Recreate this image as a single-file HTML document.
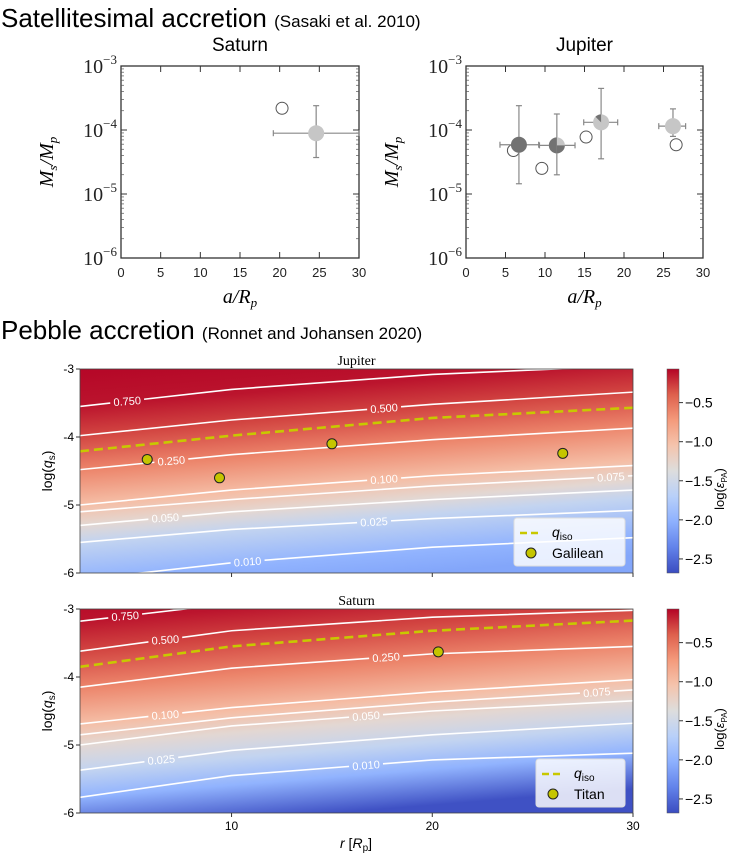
<!DOCTYPE html>
<html><head><meta charset="utf-8">
<style>
html,body{margin:0;padding:0;background:#fff;}
svg{display:block;font-family:"Liberation Sans",sans-serif;}
</style></head>
<body>
<svg id="fig" width="729" height="853" viewBox="0 0 729 853" xmlns="http://www.w3.org/2000/svg">
<text x="1" y="27" font-size="26">Satellitesimal accretion <tspan font-size="17">(Sasaki et al. 2010)</tspan></text>
<text x="1" y="339" font-size="26">Pebble accretion <tspan font-size="17">(Ronnet and Johansen 2020)</tspan></text>
<g id="topg"></g>
<g id="heat"></g>
</svg>
<script>
// ---------- satellitesimal data ----------
const satXTicks = [0,5,10,15,20,25,30];
const satYDecades = [-3,-4,-5,-6];
const saturnOpenX = [20.3];
const saturnOpenLog = [-3.66];
const saturnFillX = [24.6];
const saturnFillLog = [-4.05];
const saturnFillShade = ['light'];
const saturnXErrLo = [19.2], saturnXErrHi = [30];
const saturnYErrLo = [-4.43], saturnYErrHi = [-3.62];
const jupOpenX = [6.0, 9.6, 15.2, 26.6];
const jupOpenLog = [-4.32, -4.60, -4.11, -4.23];
const jupFillX = [6.7, 11.5, 17.1, 26.2];
const jupFillLog = [-4.23, -4.24, -3.88, -3.94];
const jupFillShade = ['dark','half','sliver','light'];
const jupXErrLo = [4.3, 9.3, 14.9, 24.4], jupXErrHi = [9.2, 13.8, 19.2, 27.8];
const jupYErrLo = [-4.84, -4.70, -4.45, -4.10], jupYErrHi = [-3.62, -3.75, -3.35, -3.67];

// ---------- pebble data ----------
const rTicks = [10,20,30];
const qTicks = [-3,-4,-5,-6];
const cbTicks = [-0.5,-1.0,-1.5,-2.0,-2.5];
const contourR = [2.45, 10, 20, 30];
const levels = ['0.750','0.500','0.250','0.100','0.075','0.050','0.025','0.010'];
const jupContours = [
 [-3.55,-3.30,-3.08,-2.95],[-3.98,-3.75,-3.52,-3.34],[-4.48,-4.26,-4.04,-3.87],
 [-5.0,-4.78,-4.57,-4.42],[-5.1,-4.92,-4.72,-4.57],[-5.3,-5.1,-4.92,-4.78],
 [-5.55,-5.36,-5.2,-5.08],[-6.1,-5.85,-5.62,-5.48]];
const jupLabelR = [4.8, 17.6, 7.0, 17.6, 28.9, 6.7, 17.1, 10.8];
const jupIso = [-4.21,-3.98,-3.72,-3.57];
const jupMoonR = [5.8, 9.4, 15.0, 26.5];
const jupMoonQ = [-4.33, -4.60, -4.10, -4.24];
const jupStopQ = [-2.9,-3.55,-3.98,-4.48,-5.0,-5.3,-5.55,-6.1,-6.4];
const jupStopV = [-0.05,-0.125,-0.3,-0.6,-1.0,-1.3,-1.6,-2.0,-2.1];
const satContours = [
 [-3.18,-2.92,-2.7,-2.55],[-3.62,-3.32,-3.12,-3.02],[-4.15,-3.87,-3.66,-3.55],
 [-4.69,-4.45,-4.22,-4.04],[-4.85,-4.6,-4.37,-4.19],[-5.0,-4.72,-4.5,-4.35],
 [-5.37,-5.08,-4.85,-4.68],[-5.77,-5.45,-5.22,-5.12]];
const satLabelR = [4.7, 6.7, 17.7, 6.7, 28.2, 16.7, 6.5, 16.7];
const satIso = [-3.85,-3.55,-3.32,-3.17];
const satMoonR = [20.3];
const satMoonQ = [-3.63];
const satStopQ = [-2.7,-3.18,-3.62,-4.15,-4.69,-5.0,-5.37,-5.77,-6.3];
const satStopV = [-0.02,-0.125,-0.3,-0.6,-1.0,-1.3,-1.6,-2.0,-2.65];

const NS='http://www.w3.org/2000/svg';
function mk(tag, attrs, parent){const e=document.createElementNS(NS,tag);for(const k in attrs)e.setAttribute(k,attrs[k]);parent.appendChild(e);return e;}
const topG=document.getElementById('topg'), heatG=document.getElementById('heat');

function satPanel(X0,X1,title,openX,openL,fillX,fillL,shade,xl,xh,yl,yh,id){
  const Y0=66,Y1=258;
  const sx=v=>X0+(v/30)*(X1-X0);
  const sy=l=>Y0+(-3-l)/3*(Y1-Y0);
  const g=mk('g',{},topG);
  
  
  const t=mk('text',{x:(X0+X1)/2,y:51,'font-size':19,'text-anchor':'middle'},g);t.textContent=title;
  
  
  const fr=mk('rect',{x:X0,y:Y0,width:X1-X0,height:Y1-Y0,fill:'none',stroke:'#333','stroke-width':1.3},g);
  
  
  satXTicks.forEach(v=>{
    const x=sx(v);
    mk('line',{x1:x,x2:x,y1:Y1,y2:Y1-6,stroke:'#333'},g);
    mk('line',{x1:x,x2:x,y1:Y0,y2:Y0+6,stroke:'#333'},g);
    const tl=mk('text',{x:x,y:277,'font-size':13,'text-anchor':'middle',fill:'#222'},g);tl.textContent=v;
    
    
  });
  satYDecades.forEach(d=>{
    const y=sy(d);
    mk('line',{x1:X0,x2:X0+6,y1:y,y2:y,stroke:'#333'},g);
    mk('line',{x1:X1,x2:X1-6,y1:y,y2:y,stroke:'#333'},g);
    if(d>-6){for(let m=2;m<10;m++){const yy=sy(d-1+Math.log10(m));
      mk('line',{x1:X0,x2:X0+3,y1:yy,y2:yy,stroke:'#555','stroke-width':0.7},g);
      mk('line',{x1:X1,x2:X1-3,y1:yy,y2:yy,stroke:'#555','stroke-width':0.7},g);}}
    const tl=mk('text',{x:X0-4,y:y+7,'font-size':20,'text-anchor':'end','font-family':'Liberation Serif, serif',fill:'#222'},g);
    tl.innerHTML='10<tspan dy="-9" font-size="13">−'+(-d)+'</tspan>';
    
    
  });
  const yl2=mk('text',{transform:`translate(${X0-68},${(Y0+Y1)/2}) rotate(-90)`,'font-size':20,'text-anchor':'middle','font-family':'Liberation Serif, serif','font-style':'italic'},g);
  yl2.innerHTML='M<tspan font-size="13" dy="4">s</tspan><tspan dy="-4">/M</tspan><tspan font-size="13" dy="4">p</tspan>';
  
  
  const xl2=mk('text',{x:(X0+X1)/2,y:303,'font-size':20,'text-anchor':'middle','font-family':'Liberation Serif, serif','font-style':'italic'},g);
  xl2.innerHTML='a/R<tspan font-size="13" dy="4">p</tspan>';
  
  
  for(let i=0;i<openX.length;i++){
    const c=mk('circle',{cx:sx(openX[i]),cy:sy(openL[i]),r:6,fill:'#fff',stroke:'#555','stroke-width':1},g);
    
    
  }
  for(let i=0;i<fillX.length;i++){
    const cx=sx(fillX[i]), cy=sy(fillL[i]);
    const eb=mk('g',{stroke:'#888','stroke-width':1.2},g);
    
    
    mk('line',{x1:sx(xl[i]),x2:sx(xh[i]),y1:cy,y2:cy},eb);
    mk('line',{x1:cx,x2:cx,y1:sy(yl[i]),y2:sy(yh[i])},eb);
    [xl[i],xh[i]].forEach(v=>mk('line',{x1:sx(v),x2:sx(v),y1:cy-3,y2:cy+3},eb));
    [yl[i],yh[i]].forEach(v=>mk('line',{x1:cx-3,x2:cx+3,y1:sy(v),y2:sy(v)},eb));
    const s=shade[i], r=8;
    const c=mk('circle',{cx:cx,cy:cy,r:r,fill:s==='dark'?'#727272':'#c6c6c6'},g);
    
    
    if(s==='half') mk('path',{d:`M${cx},${cy-r} A${r},${r} 0 0 0 ${cx},${cy+r} Z`,fill:'#727272'},g);
    if(s==='half') mk('path',{d:`M${cx},${cy} L${cx+r},${cy} A${r},${r} 0 0 1 ${cx},${cy+r} Z`,fill:'#727272'},g);
    if(s==='sliver') mk('path',{d:`M${cx},${cy} L${cx},${cy-r} A${r},${r} 0 0 0 ${cx-r*0.7},${cy-r*0.7} Z`,fill:'#727272'},g);
  }
}
satPanel(121,359,'Saturn',saturnOpenX,saturnOpenLog,saturnFillX,saturnFillLog,saturnFillShade,saturnXErrLo,saturnXErrHi,saturnYErrLo,saturnYErrHi,'saturn-satellitesimal');
satPanel(466,703,'Jupiter',jupOpenX,jupOpenLog,jupFillX,jupFillLog,jupFillShade,jupXErrLo,jupXErrHi,jupYErrLo,jupYErrHi,'jupiter-satellitesimal');

const cw=[[59,76,192],[98,130,234],[141,176,254],[184,208,249],[221,221,221],[245,196,173],[244,154,123],[222,96,77],[180,4,38]];
const VMIN=-2.68, VMAX=-0.07;
function color(v){let t=(v-VMIN)/(VMAX-VMIN);t=Math.max(0,Math.min(1,t))*8;const i=Math.min(7,Math.floor(t)),f=t-i;
  const c=cw[i].map((a,k)=>Math.round(a+(cw[i+1][k]-a)*f));return `rgb(${c})`;}

function pebblePanel(Y0,title,contours,labelR,iso,moonR,moonQ,stopQ,stopV,legendName,legX,legY,showX,id){
  const X0=80,X1=633,Y1=Y0+204;
  const sx=r=>X0+(r-2.45)/(30-2.45)*(X1-X0);
  const sy=q=>Y0+(-3-q)/3*(Y1-Y0);
  const g=mk('g',{},heatG);
  
  
  const defs=mk('defs',{},g);
  const gy0=sy(stopQ[0]), gy1=sy(stopQ[stopQ.length-1]);
  const lg=mk('linearGradient',{id:id+'-grad',gradientUnits:'userSpaceOnUse',x1:X0,x2:X0,y1:gy0,y2:gy1,
     gradientTransform:`translate(${X0},0) skewY(-4.6) translate(${-X0},0)`},defs);
  stopQ.forEach((q,i)=>mk('stop',{offset:(sy(q)-gy0)/(gy1-gy0),'stop-color':color(stopV[i])},lg));
  const cp=mk('clipPath',{id:id+'-clip'},defs);mk('rect',{x:X0,y:Y0,width:X1-X0,height:Y1-Y0},cp);
  const cbg=mk('linearGradient',{id:id+'-cb',x1:0,x2:0,y1:0,y2:1},defs);
  for(let k=0;k<=8;k++)mk('stop',{offset:k/8,'stop-color':color(VMAX-(VMAX-VMIN)*k/8)},cbg);
  const mask=mk('mask',{id:id+'-mask',maskUnits:'userSpaceOnUse',x:0,y:0,width:729,height:853},defs);
  mk('rect',{x:0,y:0,width:729,height:853,fill:'#fff'},mask);
  const interp=(arr,r)=>{for(let i=0;i<contourR.length-1;i++){if(r<=contourR[i+1]){const f=(r-contourR[i])/(contourR[i+1]-contourR[i]);return arr[i]+(arr[i+1]-arr[i])*f;}}return arr[arr.length-1];};
  const bg=mk('rect',{x:X0,y:Y0,width:X1-X0,height:Y1-Y0,fill:`url(#${id}-grad)`},g);
  
  
  const t=mk('text',{x:(X0+X1)/2,y:Y0-4,'font-size':14,'text-anchor':'middle','font-family':'Liberation Serif, serif'},g);t.textContent=title;
  
  
  const cg=mk('g',{'clip-path':`url(#${id}-clip)`},g);
  const lines=mk('g',{mask:`url(#${id}-mask)`},cg);
  contours.forEach((arr,i)=>{
    const pts=contourR.map((r,k)=>sx(r)+','+sy(arr[k])).join(' ');
    const pl=mk('polyline',{points:pts,fill:'none',stroke:'#fff','stroke-width':1.6},lines);
    
    
    const lx=sx(labelR[i]), ly=sy(interp(arr,labelR[i]));
    const ang=Math.atan2(sy(arr[3])-sy(arr[0]),sx(30)-sx(2.45))*180/Math.PI;
    mk('rect',{x:lx-17,y:ly-7,width:34,height:14,fill:'#000',transform:`rotate(${ang},${lx},${ly})`},mask);
    const lt=mk('text',{x:lx,y:ly+4,'font-size':11,fill:'#fff','text-anchor':'middle',transform:`rotate(${ang},${lx},${ly})`},cg);
    lt.textContent=levels[i];
    
    
  });
  const il=mk('polyline',{points:contourR.map((r,k)=>sx(r)+','+sy(iso[k])).join(' '),fill:'none',stroke:'#c8c800','stroke-width':2.6,'stroke-dasharray':'9,5'},cg);
  
  
  moonR.forEach((r,i)=>{
    const c=mk('circle',{cx:sx(r),cy:sy(moonQ[i]),r:5,fill:'#c5c500',stroke:'#222','stroke-width':1},g);
    
    
  });
  const fr=mk('rect',{x:X0,y:Y0,width:X1-X0,height:Y1-Y0,fill:'none',stroke:'#444','stroke-width':0.8},g);
  
  
  qTicks.forEach(q=>{
    const y=sy(q);
    mk('line',{x1:X0-4,x2:X0,y1:y,y2:y,stroke:'#333'},g);
    const tl=mk('text',{x:X0-6,y:y+4,'font-size':12,'text-anchor':'end'},g);tl.textContent=q;
    
    
  });
  rTicks.forEach(r=>{
    const x=sx(r);
    mk('line',{x1:x,x2:x,y1:Y1,y2:Y1+4,stroke:'#333'},g);
    if(showX){const tl=mk('text',{x:x,y:Y1+17,'font-size':12,'text-anchor':'middle'},g);tl.textContent=r;
      
      }
  });
  const yt=mk('text',{transform:`translate(52,${(Y0+Y1)/2}) rotate(-90)`,'font-size':14,'text-anchor':'middle'},g);
  yt.innerHTML='log(<tspan font-style="italic">q</tspan><tspan font-size="10" dy="3">s</tspan><tspan dy="-3">)</tspan>';
  
  
  const lgG=mk('g',{},g);
  
  
  mk('rect',{x:legX,y:legY,width:625-legX,height:48,rx:3,fill:'rgba(255,255,255,0.82)',stroke:'#ddd'},lgG);
  mk('line',{x1:legX+6,x2:legX+28,y1:legY+15,y2:legY+15,stroke:'#c8c800','stroke-width':2.6,'stroke-dasharray':'7,4'},lgG);
  const t1=mk('text',{x:legX+38,y:legY+19,'font-size':14},lgG);t1.innerHTML='<tspan font-style="italic">q</tspan><tspan font-size="10" dy="3">iso</tspan>';
  mk('circle',{cx:legX+17,cy:legY+35,r:5,fill:'#c5c500',stroke:'#222'},lgG);
  const t2=mk('text',{x:legX+38,y:legY+40,'font-size':14},lgG);t2.textContent=legendName;
  const cb=mk('rect',{x:667,y:Y0,width:12,height:Y1-Y0,fill:`url(#${id}-cb)`,stroke:'#555','stroke-width':0.5},g);
  
  
  cbTicks.forEach(v=>{
    const y=Y0+(VMAX-v)/(VMAX-VMIN)*(Y1-Y0);
    mk('line',{x1:679,x2:683,y1:y,y2:y,stroke:'#333'},g);
    const tl=mk('text',{x:685,y:y+5,'font-size':14},g);tl.textContent='−'+Math.abs(v).toFixed(1);
    
    
  });
  const ct=mk('text',{transform:`translate(724,${(Y0+Y1)/2+18}) rotate(-90)`,'font-size':13,'text-anchor':'middle'},g);
  ct.innerHTML='log(<tspan font-style="italic">ε</tspan><tspan font-size="8" dy="3">PA</tspan><tspan dy="-3">)</tspan>';
  
  
}
pebblePanel(369,'Jupiter',jupContours,jupLabelR,jupIso,jupMoonR,jupMoonQ,jupStopQ,jupStopV,'Galilean',514,518,false,'jupiter-pebble');
pebblePanel(609,'Saturn',satContours,satLabelR,satIso,satMoonR,satMoonQ,satStopQ,satStopV,'Titan',536,759,true,'saturn-pebble');
const xt=mk('text',{x:356,y:848,'font-size':14,'text-anchor':'middle'},heatG);
xt.innerHTML='<tspan font-style="italic">r</tspan> [<tspan font-style="italic">R</tspan><tspan font-size="10" dy="3">p</tspan><tspan dy="-3">]</tspan>';


</script>
</body></html>
